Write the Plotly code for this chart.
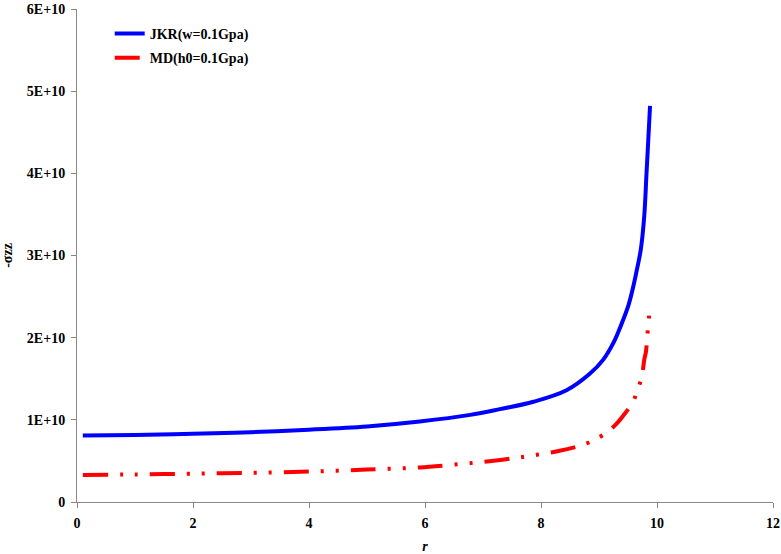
import plotly.graph_objects as go

r_jkr = [0.1, 1, 2, 3, 4, 5, 5.91, 6.78, 7.29, 7.87, 8.44, 8.84, 9.07, 9.25, 9.39, 9.51, 9.60, 9.66, 9.72, 9.78, 9.82, 9.85, 9.88]
s_jkr = [0.81, 0.815, 0.83, 0.85, 0.88, 0.92, 0.98, 1.06, 1.13, 1.22, 1.36, 1.56, 1.73, 1.94, 2.17, 2.40, 2.65, 2.85, 3.07, 3.48, 4.01, 4.41, 4.82]

r_md = [0.1, 1, 2, 3, 4, 5, 5.91, 7.15, 7.6, 8.30, 8.7, 8.96, 9.16, 9.3, 9.45, 9.58, 9.67, 9.74, 9.78, 9.81, 9.83, 9.85, 9.88]
s_md = [0.33, 0.335, 0.345, 0.355, 0.37, 0.395, 0.42, 0.50, 0.54, 0.62, 0.69, 0.77, 0.86, 0.95, 1.08, 1.21, 1.37, 1.53, 1.73, 1.83, 2.0, 2.16, 2.40]

y_ticks = [0, 1e10, 2e10, 3e10, 4e10, 5e10, 6e10]
y_labels = ["0", "1E+10", "2E+10", "3E+10", "4E+10", "5E+10", "6E+10"]
x_ticks = [0, 2, 4, 6, 8, 10, 12]

font_family = "Liberation Serif"

fig = go.Figure()
fig.add_trace(go.Scatter(
    x=r_jkr, y=[v * 1e10 for v in s_jkr], mode="lines",
    name="<b>JKR(w=0.1Gpa)</b>", legendgroup="a",
    line=dict(color="#0000ff", width=4, shape="spline", smoothing=1.0),
))
fig.add_trace(go.Scatter(
    x=r_md, y=[v * 1e10 for v in s_md], mode="lines",
    name="<b>MD(h0=0.1Gpa)</b>", legendgroup="b",
    line=dict(color="#ff0000", width=4, shape="spline", smoothing=0.8,
              dash="25px,12px,3px,12px,3px,12px"),
))

axis_common = dict(
    showline=True, linecolor="#888888", linewidth=1,
    ticks="outside", ticklen=5, tickcolor="#888888",
    showgrid=False, zeroline=False, automargin=False,
    ticklabelstandoff=3,
    tickfont=dict(family=font_family, size=14, color="black"),
)

fig.update_layout(
    width=781, height=554,
    margin=dict(l=77, r=8, t=9, b=52),
    paper_bgcolor="white", plot_bgcolor="white",
    font=dict(family=font_family, size=13, color="black"),
    showlegend=True,
    legend=dict(x=0.047, y=0.982, xanchor="left", yanchor="top",
                bgcolor="rgba(0,0,0,0)", tracegroupgap=3,
                font=dict(family=font_family, size=14, color="black")),
    xaxis=dict(range=[0, 12], tickvals=x_ticks, ticktext=[f"<b>{t}</b>" for t in x_ticks],
               title=dict(text="<b><i>r</i></b>", standoff=11,
                          font=dict(family=font_family, size=14)),
               **axis_common),
    yaxis=dict(range=[0, 6e10], tickvals=y_ticks, ticktext=[f"<b>{t}</b>" for t in y_labels],
               title=dict(text="<b>-σzz</b>", standoff=17,
                          font=dict(family=font_family, size=14)),
               **axis_common),
)

fig.write_html("out.html", config={"displayModeBar": False},
               post_script="document.body.style.margin='0';")
